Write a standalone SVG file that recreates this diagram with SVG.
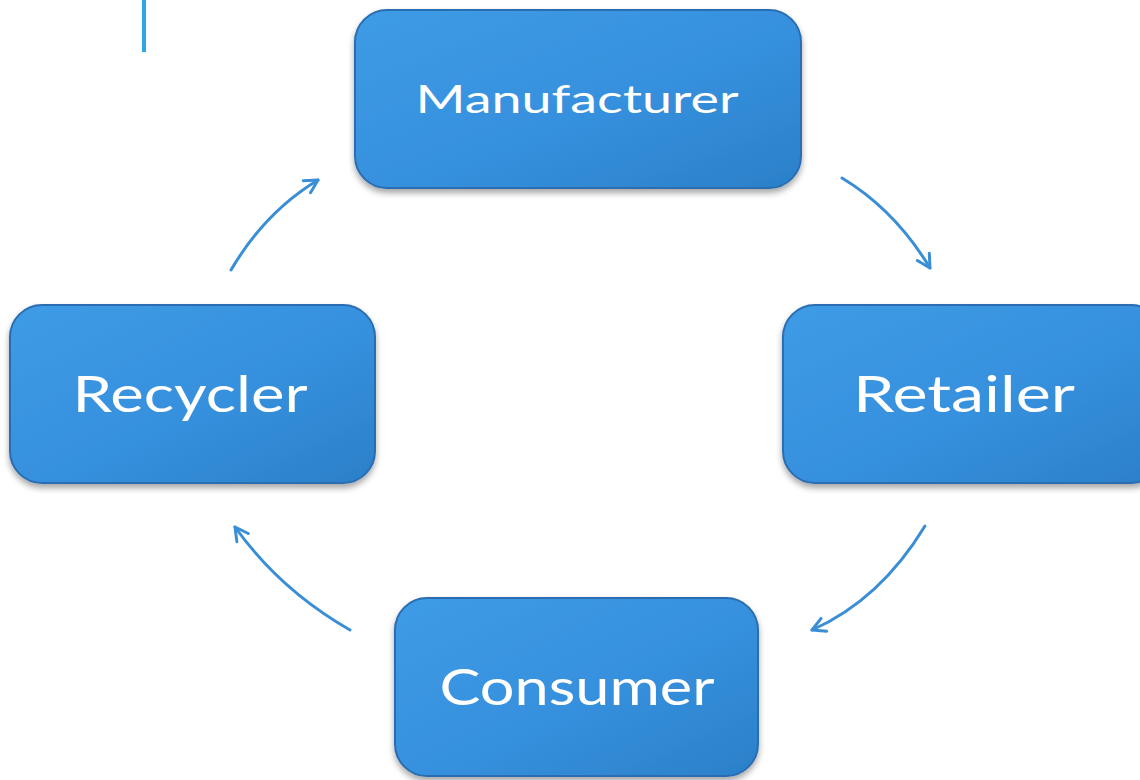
<svg xmlns="http://www.w3.org/2000/svg" width="1140" height="780" viewBox="0 0 1140 780">
<defs>
<linearGradient id="boxg" x1="0" y1="0" x2="1" y2="1">
<stop offset="0" stop-color="#3f9be6"/>
<stop offset="0.55" stop-color="#3690dd"/>
<stop offset="1" stop-color="#2b80c9"/>
</linearGradient>
<filter id="sh" x="-10%" y="-10%" width="120%" height="130%">
<feDropShadow dx="0" dy="4" stdDeviation="3" flood-color="#000" flood-opacity="0.35"/>
</filter>
<marker id="ah" viewBox="0 0 20 20" refX="16" refY="10" markerWidth="20" markerHeight="20" markerUnits="userSpaceOnUse" orient="auto">
<path d="M3,3 L16,10 L3,17" fill="none" stroke="#3a8ed6" stroke-width="3" stroke-linecap="round" stroke-linejoin="round"/>
</marker>
</defs>
<style>
.box{fill:url(#boxg);stroke:#2b6db0;stroke-width:2;filter:url(#sh)}
.lbl{fill:#fff;font-family:Lato,"Open Sans","Liberation Sans",sans-serif;font-weight:normal;text-anchor:middle}
.con{fill:none;stroke:#3a8ed6;stroke-width:3;stroke-linecap:round;marker-end:url(#ah)}
</style>
<rect width="1140" height="780" fill="#fff"/>
<line x1="144" y1="0" x2="144" y2="52" stroke="#29a8e2" stroke-width="4"/>
<g id="manufacturer">
<rect class="box" x="355" y="10" width="446" height="178" rx="32"/>
<text class="lbl" x="577" y="113" font-size="38" textLength="323" lengthAdjust="spacingAndGlyphs">Manufacturer</text>
</g>
<g id="retailer">
<rect class="box" x="783" y="305" width="380" height="178" rx="32"/>
<text class="lbl" x="964" y="412" font-size="50" textLength="222" lengthAdjust="spacingAndGlyphs">Retailer</text>
</g>
<g id="consumer">
<rect class="box" x="395" y="598" width="363" height="178" rx="32"/>
<text class="lbl" x="577" y="705" font-size="50" textLength="275" lengthAdjust="spacingAndGlyphs">Consumer</text>
</g>
<g id="recycler">
<rect class="box" x="10" y="305" width="365" height="178" rx="32"/>
<text class="lbl" x="190" y="412" font-size="50" textLength="235" lengthAdjust="spacingAndGlyphs">Recycler</text>
</g>
<g id="connectors">
<path class="con" d="M842,178 Q895,210 930,268"/>
<path class="con" d="M925,526 Q880,600 812,630"/>
<path class="con" d="M350,630 Q280,590 235,527"/>
<path class="con" d="M231,270 Q265,212 318,180"/>
</g>
</svg>
